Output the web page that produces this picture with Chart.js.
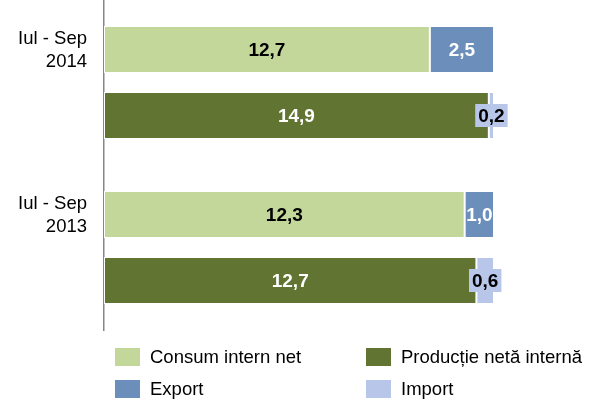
<!DOCTYPE html>
<html>
<head>
<meta charset="utf-8">
<script src="https://cdn.jsdelivr.net/npm/chart.js@4.4.1/dist/chart.umd.min.js"></script>
<style>
  html, body { margin: 0; padding: 0; background: #fff; }
  .chart-container { width: 602px; height: 400px; position: relative; }
</style>
</head>
<body>
<div class="chart-container">
  <canvas id="chart"></canvas>
</div>
<script>
// period labels (one per group, shown against the top bar)
const categories = [['Iul - Sep', '2014'], ['Iul - Sep', '2013']];

// values
const consumInternNet = [12.7, 12.3];
const exportValues = [2.5, 1.0];
const productieNetaInterna = [14.9, 12.7];
const importValues = [0.2, 0.6];

const FONT = 'Liberation Sans, Arial, sans-serif';

// each bar is shown as a share of its own total
const share = (part, other) => part.map((v, i) => v / (v + other[i]) * 100);

const fmt = v => v.toFixed(1).replace('.', ',');

const datasets = [
    {
        label: 'Consum intern net',
        raw: consumInternNet,
        data: share(consumInternNet, exportValues),
        backgroundColor: '#C4D79B',
        textColor: '#000',
        stack: 'a',
    },
    {
        label: 'Producție netă internă',
        raw: productieNetaInterna,
        data: share(productieNetaInterna, importValues),
        backgroundColor: '#617431',
        textColor: '#fff',
        stack: 'b',
    },
    {
        label: 'Export',
        raw: exportValues,
        data: share(exportValues, consumInternNet),
        backgroundColor: '#6C8EBA',
        textColor: '#fff',
        stack: 'a',
    },
    {
        label: 'Import',
        raw: importValues,
        data: share(importValues, productieNetaInterna),
        backgroundColor: '#B8C6EA',
        textColor: '#000',
        stack: 'b',
    },
];
datasets.forEach(d => {
    d.borderColor = '#fff';
    d.borderWidth = 1;
    d.borderSkipped = false;
    d.categoryPercentage = 0.8;
    d.barPercentage = 0.71;
});

// value labels in the middle of every segment
const valueLabels = {
    id: 'valueLabels',
    afterDatasetsDraw(chart) {
        const ctx = chart.ctx;
        ctx.save();
        ctx.font = 'bold 19px ' + FONT;
        ctx.textAlign = 'center';
        ctx.textBaseline = 'middle';
        chart.data.datasets.forEach((ds, di) => {
            const meta = chart.getDatasetMeta(di);
            meta.data.forEach((bar, i) => {
                const text = fmt(ds.raw[i]);
                const cx = (bar.x + bar.base) / 2;
                const w = ctx.measureText(text).width;
                if (w + 2 > Math.abs(bar.x - bar.base)) {
                    ctx.fillStyle = ds.backgroundColor;
                    ctx.fillRect(cx - w / 2 - 3, bar.y - 11.5, w + 6, 23);
                }
                ctx.fillStyle = ds.textColor;
                ctx.fillText(text, cx, bar.y + 1);
            });
        });
        ctx.restore();
    },
};

// two-column legend under the plot
const gridLegend = {
    id: 'gridLegend',
    afterDraw(chart) {
        const ctx = chart.ctx;
        const cols = [115, 366];
        const rows = [chart.chartArea.bottom + 27, chart.chartArea.bottom + 59];
        ctx.save();
        ctx.font = '18.5px ' + FONT;
        ctx.textBaseline = 'middle';
        ctx.textAlign = 'left';
        chart.data.datasets.forEach((ds, i) => {
            const x = cols[i % 2];
            const y = rows[Math.floor(i / 2)];
            ctx.fillStyle = ds.backgroundColor;
            ctx.fillRect(x, y - 9, 25, 18);
            ctx.fillStyle = '#000';
            ctx.fillText(ds.label, x + 35, y + 1);
        });
        ctx.restore();
    },
};

new Chart(document.getElementById('chart'), {
    type: 'bar',
    data: { labels: categories, datasets: datasets },
    plugins: [valueLabels, gridLegend],
    options: {
        indexAxis: 'y',
        responsive: true,
        maintainAspectRatio: false,
        animation: false,
        layout: { padding: { left: 0, right: 108, top: 0, bottom: 70 } },
        plugins: {
            legend: { display: false },
            tooltip: { enabled: false },
        },
        scales: {
            x: {
                stacked: true,
                display: false,
                min: 0,
                max: 100,
            },
            y: {
                stacked: true,
                grid: { display: true, color: 'transparent', drawTicks: false },
                border: { display: true, color: '#868686', width: 1.5 },
                ticks: {
                    color: '#000',
                    font: { family: FONT, size: 18.5 },
                    padding: 17,
                    labelOffset: -32,
                },
                afterFit(scale) {
                    scale.width = 104;
                    scale.paddingTop = 0;
                    scale.paddingBottom = 0;
                },
            },
        },
    },
});
</script>
</body>
</html>
